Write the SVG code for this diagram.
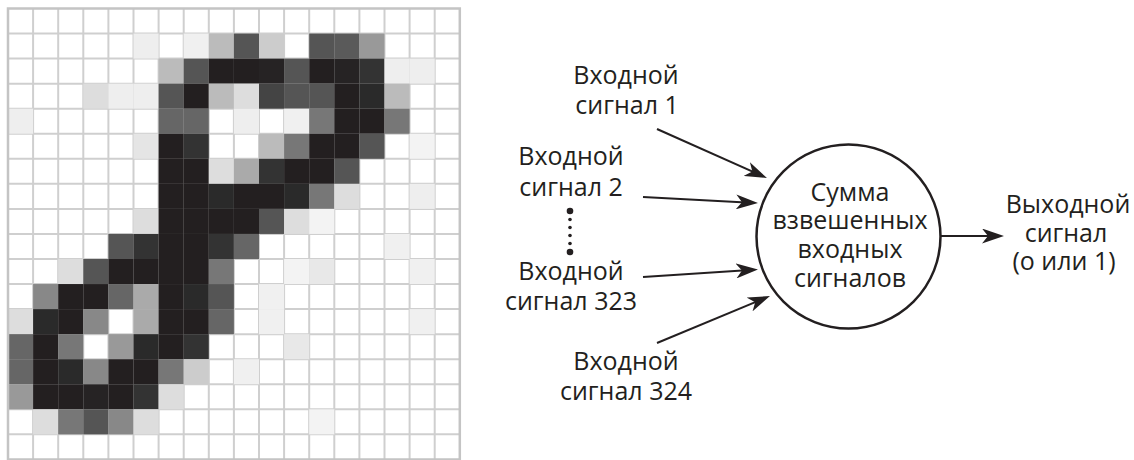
<svg xmlns="http://www.w3.org/2000/svg" width="1134" height="460" viewBox="0 0 1134 460">
<style>
.t{font-family:"Open Sans","Liberation Sans",sans-serif;font-size:25px;fill:#231f20;text-anchor:middle}
.ln{stroke:#231f20;stroke-width:2;fill:none}
.gl{stroke:#cfcfcf;stroke-width:2;fill:none}
</style>
<defs>
<marker id="ah" viewBox="0 0 22 15" refX="10" refY="7.5" markerWidth="22" markerHeight="15" markerUnits="userSpaceOnUse" orient="auto">
<path d="M0,0 L22,7.5 L0,15 L6,7.5 z" fill="#231f20"/>
</marker>
</defs>
<rect width="1134" height="460" fill="#fff"/>
<g id="pixel-grid">
<g transform="translate(8 8.5) scale(25.1 25.05)">
<path class="gl" vector-effect="non-scaling-stroke" d="M1,0V18M2,0V18M3,0V18M4,0V18M5,0V18M6,0V18M7,0V18M8,0V18M9,0V18M10,0V18M11,0V18M12,0V18M13,0V18M14,0V18M15,0V18M16,0V18M17,0V18M0,1H18M0,2H18M0,3H18M0,4H18M0,5H18M0,6H18M0,7H18M0,8H18M0,9H18M0,10H18M0,11H18M0,12H18M0,13H18M0,14H18M0,15H18M0,16H18M0,17H18"/>
<!-- row 1 -->
<rect x="5" y="1" width="1" height="1" fill="#eee"/><rect x="7" y="1" width="1" height="1" fill="#f0f0f0"/><rect x="8" y="1" width="1" height="1" fill="#bbb"/><rect x="9" y="1" width="1" height="1" fill="#555"/><rect x="10" y="1" width="1" height="1" fill="#ccc"/><rect x="12" y="1" width="1" height="1" fill="#555"/><rect x="13" y="1" width="1" height="1" fill="#5a5a5a"/><rect x="14" y="1" width="1" height="1" fill="#999"/>
<!-- row 2 -->
<rect x="6" y="2" width="1" height="1" fill="#bbb"/><rect x="7" y="2" width="1" height="1" fill="#555"/><rect x="8" y="2" width="1" height="1" fill="#231f20"/><rect x="9" y="2" width="1" height="1" fill="#231f20"/><rect x="10" y="2" width="1" height="1" fill="#262324"/><rect x="11" y="2" width="1" height="1" fill="#555"/><rect x="12" y="2" width="1" height="1" fill="#231f20"/><rect x="13" y="2" width="1" height="1" fill="#262324"/><rect x="14" y="2" width="1" height="1" fill="#333"/><rect x="15" y="2" width="1" height="1" fill="#eee"/><rect x="16" y="2" width="1" height="1" fill="#eee"/>
<!-- row 3 -->
<rect x="3" y="3" width="1" height="1" fill="#ddd"/><rect x="4" y="3" width="1" height="1" fill="#eee"/><rect x="5" y="3" width="1" height="1" fill="#eee"/><rect x="6" y="3" width="1" height="1" fill="#555"/><rect x="7" y="3" width="1" height="1" fill="#231f20"/><rect x="8" y="3" width="1" height="1" fill="#bbb"/><rect x="9" y="3" width="1" height="1" fill="#ddd"/><rect x="10" y="3" width="1" height="1" fill="#444"/><rect x="11" y="3" width="1" height="1" fill="#555"/><rect x="12" y="3" width="1" height="1" fill="#555"/><rect x="13" y="3" width="1" height="1" fill="#231f20"/><rect x="14" y="3" width="1" height="1" fill="#2a2a2a"/><rect x="15" y="3" width="1" height="1" fill="#bbb"/>
<!-- row 4 -->
<rect x="0" y="4" width="1" height="1" fill="#eee"/><rect x="6" y="4" width="1" height="1" fill="#666"/><rect x="7" y="4" width="1" height="1" fill="#666"/><rect x="9" y="4" width="1" height="1" fill="#eee"/><rect x="11" y="4" width="1" height="1" fill="#f0f0f0"/><rect x="12" y="4" width="1" height="1" fill="#777"/><rect x="13" y="4" width="1" height="1" fill="#231f20"/><rect x="14" y="4" width="1" height="1" fill="#231f20"/><rect x="15" y="4" width="1" height="1" fill="#777"/>
<!-- row 5 -->
<rect x="5" y="5" width="1" height="1" fill="#e5e5e5"/><rect x="6" y="5" width="1" height="1" fill="#231f20"/><rect x="7" y="5" width="1" height="1" fill="#333"/><rect x="10" y="5" width="1" height="1" fill="#bbb"/><rect x="11" y="5" width="1" height="1" fill="#777"/><rect x="12" y="5" width="1" height="1" fill="#231f20"/><rect x="13" y="5" width="1" height="1" fill="#231f20"/><rect x="14" y="5" width="1" height="1" fill="#555"/><rect x="16" y="5" width="1" height="1" fill="#f3f3f3"/>
<!-- row 6 -->
<rect x="6" y="6" width="1" height="1" fill="#231f20"/><rect x="7" y="6" width="1" height="1" fill="#231f20"/><rect x="8" y="6" width="1" height="1" fill="#ddd"/><rect x="9" y="6" width="1" height="1" fill="#aaa"/><rect x="10" y="6" width="1" height="1" fill="#333"/><rect x="11" y="6" width="1" height="1" fill="#231f20"/><rect x="12" y="6" width="1" height="1" fill="#231f20"/><rect x="13" y="6" width="1" height="1" fill="#555"/>
<!-- row 7 -->
<rect x="6" y="7" width="1" height="1" fill="#231f20"/><rect x="7" y="7" width="1" height="1" fill="#231f20"/><rect x="8" y="7" width="1" height="1" fill="#2a2a2a"/><rect x="9" y="7" width="1" height="1" fill="#231f20"/><rect x="10" y="7" width="1" height="1" fill="#231f20"/><rect x="11" y="7" width="1" height="1" fill="#2a2a2a"/><rect x="12" y="7" width="1" height="1" fill="#777"/><rect x="13" y="7" width="1" height="1" fill="#ddd"/><rect x="16" y="7" width="1" height="1" fill="#eee"/>
<!-- row 8 -->
<rect x="5" y="8" width="1" height="1" fill="#ddd"/><rect x="6" y="8" width="1" height="1" fill="#231f20"/><rect x="7" y="8" width="1" height="1" fill="#231f20"/><rect x="8" y="8" width="1" height="1" fill="#231f20"/><rect x="9" y="8" width="1" height="1" fill="#231f20"/><rect x="10" y="8" width="1" height="1" fill="#555"/><rect x="11" y="8" width="1" height="1" fill="#ddd"/><rect x="12" y="8" width="1" height="1" fill="#f3f3f3"/>
<!-- row 9 -->
<rect x="4" y="9" width="1" height="1" fill="#555"/><rect x="5" y="9" width="1" height="1" fill="#333"/><rect x="6" y="9" width="1" height="1" fill="#231f20"/><rect x="7" y="9" width="1" height="1" fill="#231f20"/><rect x="8" y="9" width="1" height="1" fill="#333"/><rect x="9" y="9" width="1" height="1" fill="#666"/><rect x="15" y="9" width="1" height="1" fill="#f0f0f0"/>
<!-- row 10 -->
<rect x="2" y="10" width="1" height="1" fill="#ddd"/><rect x="3" y="10" width="1" height="1" fill="#555"/><rect x="4" y="10" width="1" height="1" fill="#231f20"/><rect x="5" y="10" width="1" height="1" fill="#231f20"/><rect x="6" y="10" width="1" height="1" fill="#231f20"/><rect x="7" y="10" width="1" height="1" fill="#231f20"/><rect x="8" y="10" width="1" height="1" fill="#777"/><rect x="11" y="10" width="1" height="1" fill="#f3f3f3"/><rect x="12" y="10" width="1" height="1" fill="#e8e8e8"/><rect x="16" y="10" width="1" height="1" fill="#f0f0f0"/>
<!-- row 11 -->
<rect x="1" y="11" width="1" height="1" fill="#888"/><rect x="2" y="11" width="1" height="1" fill="#231f20"/><rect x="3" y="11" width="1" height="1" fill="#231f20"/><rect x="4" y="11" width="1" height="1" fill="#666"/><rect x="5" y="11" width="1" height="1" fill="#aaa"/><rect x="6" y="11" width="1" height="1" fill="#231f20"/><rect x="7" y="11" width="1" height="1" fill="#2a2a2a"/><rect x="8" y="11" width="1" height="1" fill="#555"/><rect x="10" y="11" width="1" height="1" fill="#f0f0f0"/>
<!-- row 12 -->
<rect x="0" y="12" width="1" height="1" fill="#ddd"/><rect x="1" y="12" width="1" height="1" fill="#2a2a2a"/><rect x="2" y="12" width="1" height="1" fill="#231f20"/><rect x="3" y="12" width="1" height="1" fill="#888"/><rect x="5" y="12" width="1" height="1" fill="#aaa"/><rect x="6" y="12" width="1" height="1" fill="#231f20"/><rect x="7" y="12" width="1" height="1" fill="#231f20"/><rect x="8" y="12" width="1" height="1" fill="#666"/><rect x="10" y="12" width="1" height="1" fill="#f0f0f0"/><rect x="16" y="12" width="1" height="1" fill="#f0f0f0"/>
<!-- row 13 -->
<rect x="0" y="13" width="1" height="1" fill="#666"/><rect x="1" y="13" width="1" height="1" fill="#231f20"/><rect x="2" y="13" width="1" height="1" fill="#777"/><rect x="4" y="13" width="1" height="1" fill="#999"/><rect x="5" y="13" width="1" height="1" fill="#2a2a2a"/><rect x="6" y="13" width="1" height="1" fill="#231f20"/><rect x="7" y="13" width="1" height="1" fill="#333"/><rect x="11" y="13" width="1" height="1" fill="#e8e8e8"/>
<!-- row 14 -->
<rect x="0" y="14" width="1" height="1" fill="#666"/><rect x="1" y="14" width="1" height="1" fill="#231f20"/><rect x="2" y="14" width="1" height="1" fill="#2a2a2a"/><rect x="3" y="14" width="1" height="1" fill="#888"/><rect x="4" y="14" width="1" height="1" fill="#231f20"/><rect x="5" y="14" width="1" height="1" fill="#231f20"/><rect x="6" y="14" width="1" height="1" fill="#777"/><rect x="7" y="14" width="1" height="1" fill="#ccc"/><rect x="9" y="14" width="1" height="1" fill="#f0f0f0"/>
<!-- row 15 -->
<rect x="0" y="15" width="1" height="1" fill="#999"/><rect x="1" y="15" width="1" height="1" fill="#231f20"/><rect x="2" y="15" width="1" height="1" fill="#231f20"/><rect x="3" y="15" width="1" height="1" fill="#262324"/><rect x="4" y="15" width="1" height="1" fill="#231f20"/><rect x="5" y="15" width="1" height="1" fill="#333"/><rect x="6" y="15" width="1" height="1" fill="#ddd"/>
<!-- row 16 -->
<rect x="1" y="16" width="1" height="1" fill="#ddd"/><rect x="2" y="16" width="1" height="1" fill="#777"/><rect x="3" y="16" width="1" height="1" fill="#555"/><rect x="4" y="16" width="1" height="1" fill="#888"/><rect x="5" y="16" width="1" height="1" fill="#ddd"/><rect x="12" y="16" width="1" height="1" fill="#f3f3f3"/>
<rect x="0" y="0" width="18" height="18" fill="none" stroke="#c4c4c4" stroke-width="2.5" vector-effect="non-scaling-stroke"/>
</g>
</g>
<g id="connectors">
<line class="ln" x1="657" y1="129" x2="756" y2="173.1" marker-end="url(#ah)"/>
<line class="ln" x1="643" y1="197" x2="746" y2="202.4" marker-end="url(#ah)"/>
<line class="ln" x1="643" y1="277" x2="746" y2="270.3" marker-end="url(#ah)"/>
<line class="ln" x1="657" y1="343" x2="758.9" y2="300.6" marker-end="url(#ah)"/>
<line class="ln" x1="940" y1="236" x2="992" y2="236" marker-end="url(#ah)"/>
<g id="ellipsis-dots" fill="#231f20">
<circle cx="570" cy="211" r="3.3"/>
<circle cx="570" cy="219.5" r="1.8"/>
<circle cx="570" cy="227.5" r="1.8"/>
<circle cx="570" cy="235.5" r="1.8"/>
<circle cx="570" cy="243.5" r="1.8"/>
<circle cx="570" cy="252" r="3.3"/>
</g>
</g>
<g id="input-1"><text class="t" x="626" y="84">Входной</text><text class="t" x="627" y="114">сигнал 1</text></g>
<g id="input-2"><text class="t" x="571" y="165">Входной</text><text class="t" x="571" y="196">сигнал 2</text></g>
<g id="input-323"><text class="t" x="571" y="280">Входной</text><text class="t" x="571" y="310">сигнал 323</text></g>
<g id="input-324"><text class="t" x="626" y="370">Входной</text><text class="t" x="626" y="400">сигнал 324</text></g>
<g id="neuron">
<circle cx="848.5" cy="236.5" r="92" fill="#fff" stroke="#231f20" stroke-width="2.5"/>
<text class="t" x="850" y="201">Сумма</text>
<text class="t" x="850" y="229">взвешенных</text>
<text class="t" x="850" y="258">входных</text>
<text class="t" x="850" y="287">сигналов</text>
</g>
<g id="output"><text class="t" x="1068" y="213">Выходной</text><text class="t" x="1066" y="242">сигнал</text><text class="t" x="1064" y="270">(о или 1)</text></g>
</svg>
